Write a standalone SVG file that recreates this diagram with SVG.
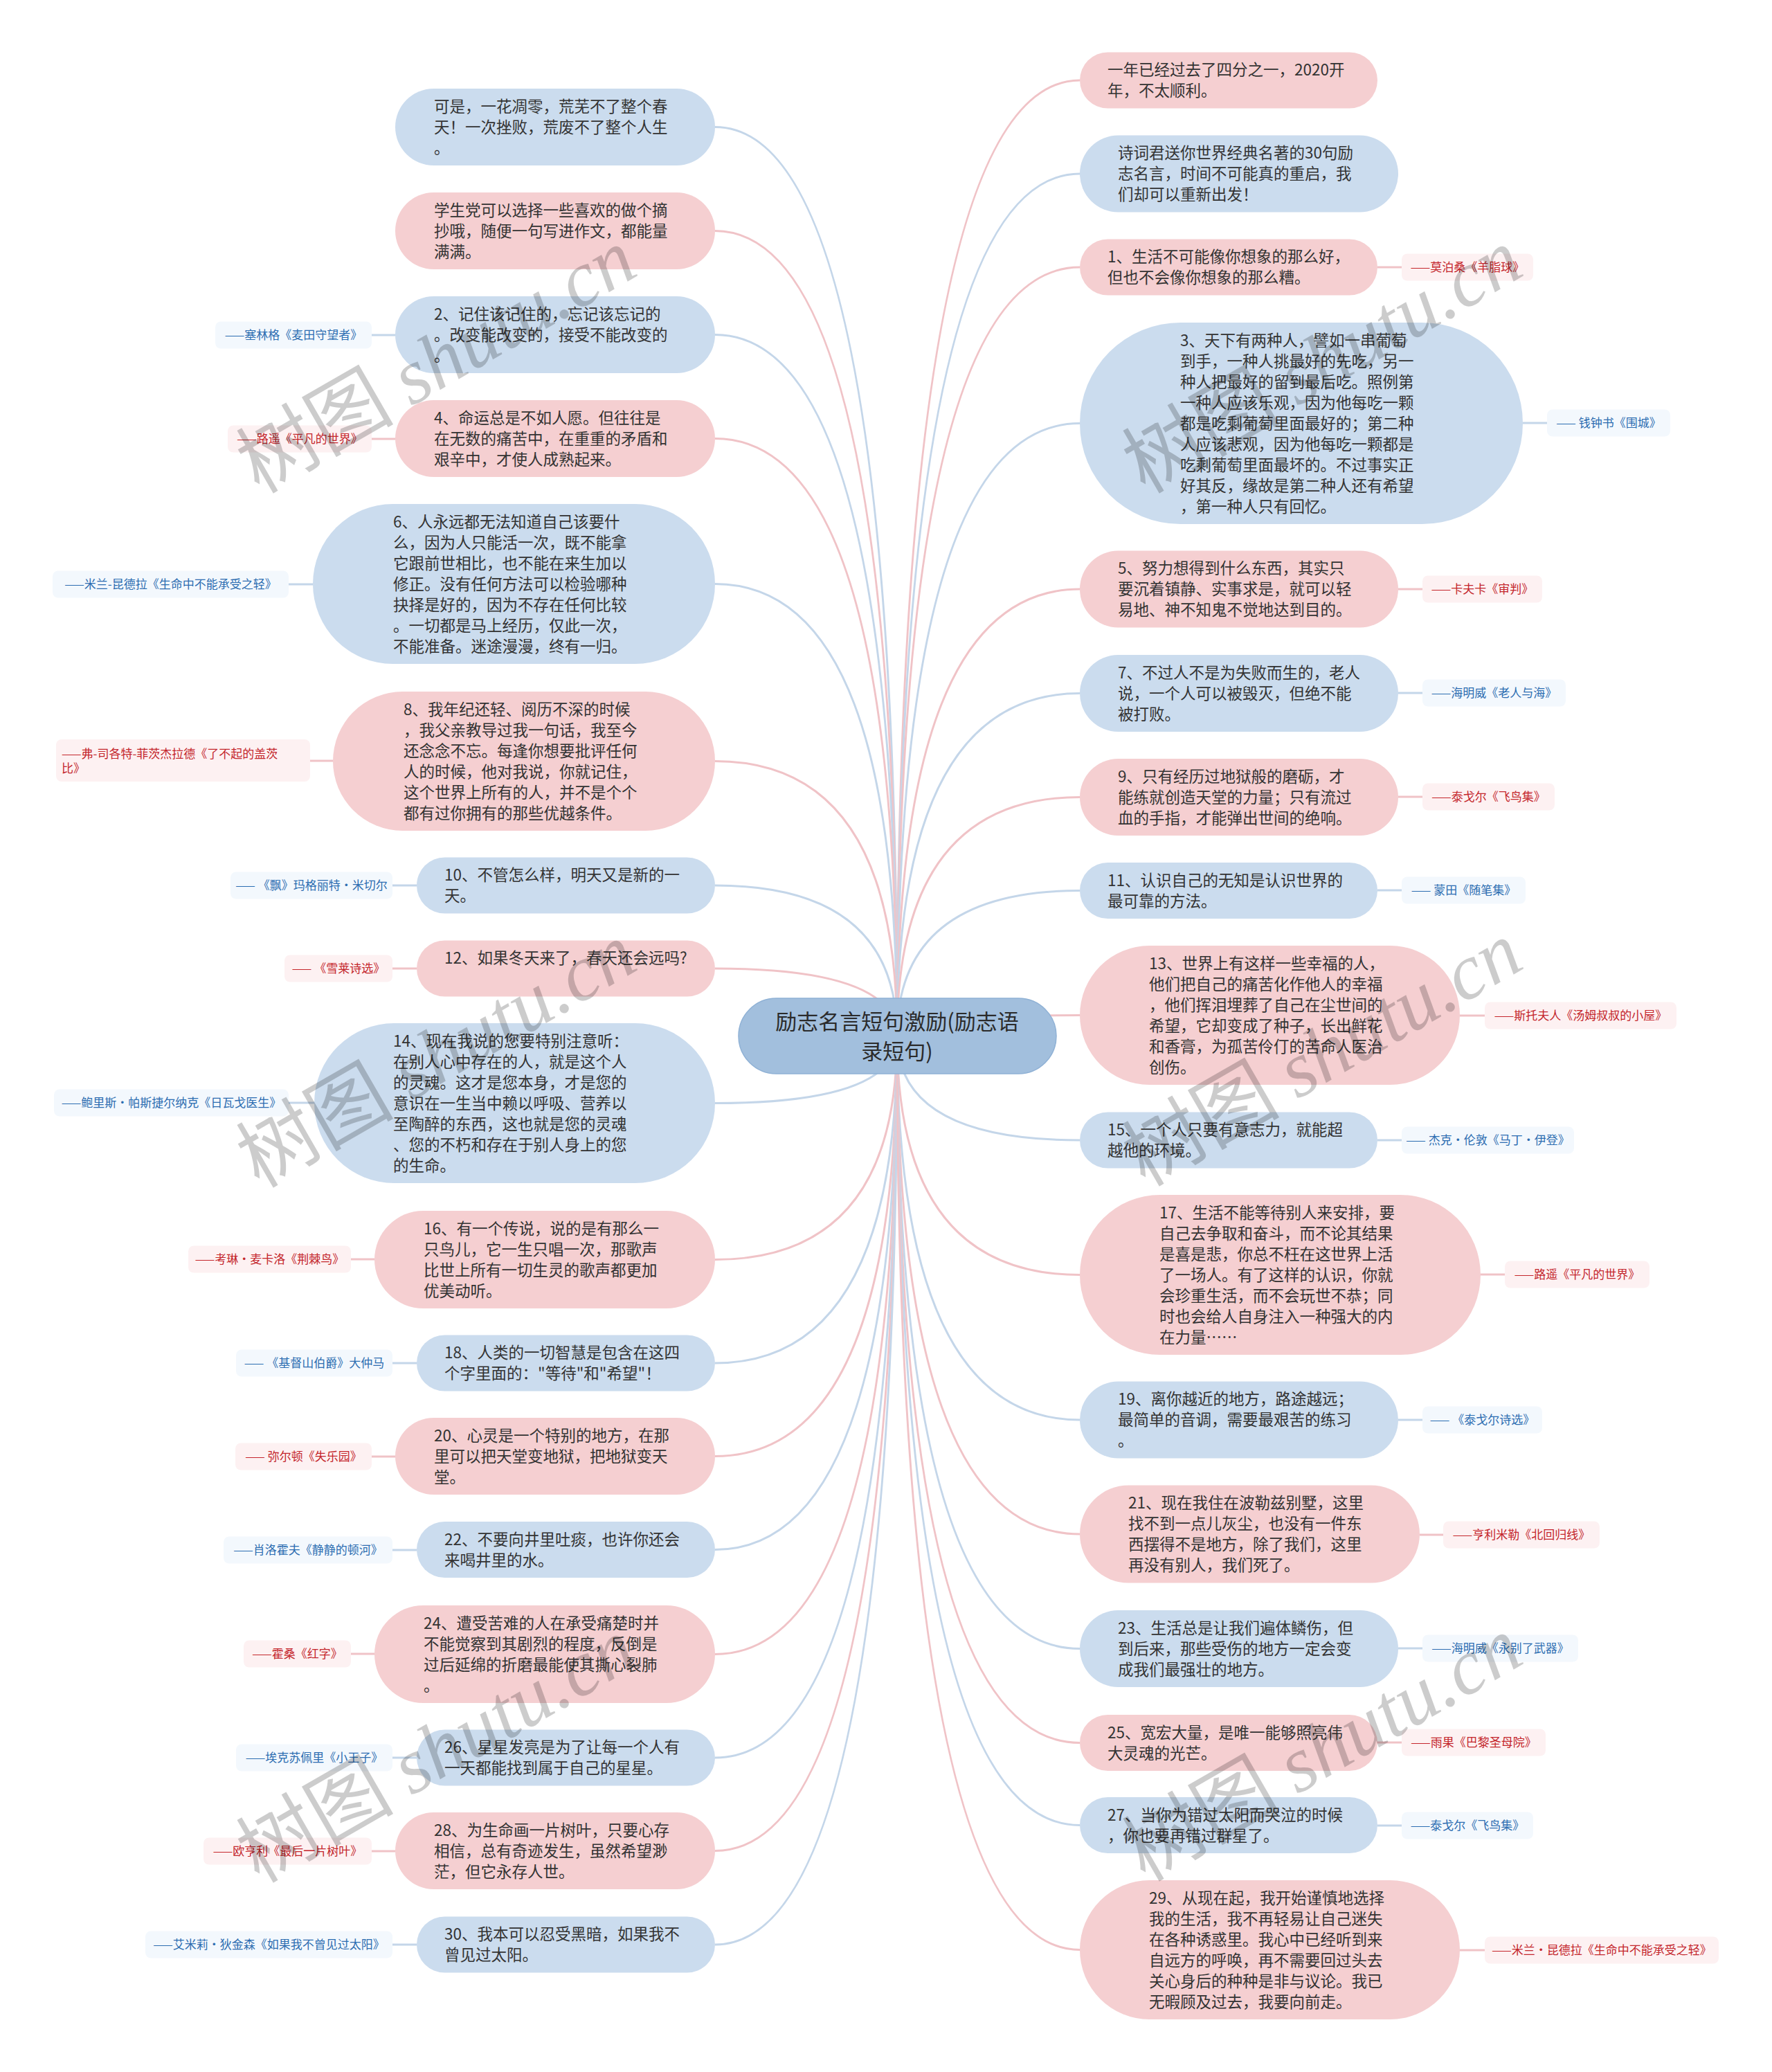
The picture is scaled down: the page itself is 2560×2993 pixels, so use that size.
<svg xmlns="http://www.w3.org/2000/svg" width="2560" height="2993" viewBox="0 0 2560 2993">
<style>
.t{font-family:"Noto Sans CJK SC","Noto Sans",sans-serif;font-size:22.5px;fill:#333333}
.nb{fill:#cbdcee}.np{fill:#f5cfd1}
.cb{fill:none;stroke:#c4d6e9;stroke-width:3}.cp{fill:none;stroke:#f0c3c7;stroke-width:3}
.lb{fill:#f3f8fd}.lp{fill:#fdf1f2}
.l{font-family:"Noto Sans CJK SC","Noto Sans",sans-serif;font-size:17px;text-anchor:middle}
.lt{font-family:"Noto Sans CJK SC","Noto Sans",sans-serif;font-size:17px}
.tb{fill:#2c6db1}.tp{fill:#c4262c}
.wm{font-size:114px;fill:#000000;fill-opacity:0.2}
</style>
<rect width="2560" height="2993" fill="#ffffff"/>
<g id="connectors">
<path class="cb" d="M1296 1497Q1296 183.5 1033 183.5"/>
<path class="cp" d="M1296 1497Q1296 333.5 1033 333.5"/>
<path class="cb" d="M1296 1497Q1296 483.5 1033 483.5"/>
<path class="cp" d="M1296 1497Q1296 633.5 1033 633.5"/>
<path class="cb" d="M1296 1497Q1296 843.5 1033 843.5"/>
<path class="cp" d="M1296 1497Q1296 1099.5 1033 1099.5"/>
<path class="cb" d="M1296 1497Q1296 1279 1033 1279"/>
<path class="cp" d="M1296 1497Q1296 1399 1033 1399"/>
<path class="cb" d="M1296 1497Q1296 1593.5 1033 1593.5"/>
<path class="cp" d="M1296 1497Q1296 1819.5 1033 1819.5"/>
<path class="cb" d="M1296 1497Q1296 1969 1033 1969"/>
<path class="cp" d="M1296 1497Q1296 2103.5 1033 2103.5"/>
<path class="cb" d="M1296 1497Q1296 2238.5 1033 2238.5"/>
<path class="cp" d="M1296 1497Q1296 2389.5 1033 2389.5"/>
<path class="cb" d="M1296 1497Q1296 2539 1033 2539"/>
<path class="cp" d="M1296 1497Q1296 2673.5 1033 2673.5"/>
<path class="cb" d="M1296 1497Q1296 2809 1033 2809"/>
<path class="cp" d="M1296 1497Q1296 116 1560 116"/>
<path class="cb" d="M1296 1497Q1296 251 1560 251"/>
<path class="cp" d="M1296 1497Q1296 386 1560 386"/>
<path class="cb" d="M1296 1497Q1296 611.5 1560 611.5"/>
<path class="cp" d="M1296 1497Q1296 851 1560 851"/>
<path class="cb" d="M1296 1497Q1296 1001.5 1560 1001.5"/>
<path class="cp" d="M1296 1497Q1296 1151.5 1560 1151.5"/>
<path class="cb" d="M1296 1497Q1296 1286.5 1560 1286.5"/>
<path class="cp" d="M1296 1497Q1296 1466.5 1560 1466.5"/>
<path class="cb" d="M1296 1497Q1296 1647 1560 1647"/>
<path class="cp" d="M1296 1497Q1296 1841.5 1560 1841.5"/>
<path class="cb" d="M1296 1497Q1296 2051 1560 2051"/>
<path class="cp" d="M1296 1497Q1296 2216 1560 2216"/>
<path class="cb" d="M1296 1497Q1296 2381.5 1560 2381.5"/>
<path class="cp" d="M1296 1497Q1296 2517.5 1560 2517.5"/>
<path class="cb" d="M1296 1497Q1296 2636.5 1560 2636.5"/>
<path class="cp" d="M1296 1497Q1296 2816.5 1560 2816.5"/>
<path class="cb" d="M537 484H571"/>
<path class="cp" d="M537 634H571"/>
<path class="cb" d="M417 844H452"/>
<path class="cp" d="M448 1099H481"/>
<path class="cb" d="M567 1279H602"/>
<path class="cp" d="M567 1399H602"/>
<path class="cb" d="M417 1593H454"/>
<path class="cp" d="M507 1819H541"/>
<path class="cb" d="M567 1969H602"/>
<path class="cp" d="M537 2104H571"/>
<path class="cb" d="M567 2239H602"/>
<path class="cp" d="M507 2389H541"/>
<path class="cb" d="M567 2539H602"/>
<path class="cp" d="M537 2674H571"/>
<path class="cb" d="M567 2809H602"/>
<path class="cp" d="M1990 386H2025"/>
<path class="cb" d="M2200 611H2235"/>
<path class="cp" d="M2020 851H2055"/>
<path class="cb" d="M2020 1001H2055"/>
<path class="cp" d="M2020 1151H2055"/>
<path class="cb" d="M1990 1286H2025"/>
<path class="cp" d="M2109 1467H2145"/>
<path class="cb" d="M1990 1647H2025"/>
<path class="cp" d="M2139 1841H2174"/>
<path class="cb" d="M2020 2051H2055"/>
<path class="cp" d="M2051 2217H2085"/>
<path class="cb" d="M2020 2381H2055"/>
<path class="cp" d="M1990 2517H2025"/>
<path class="cb" d="M1990 2637H2025"/>
<path class="cp" d="M2109 2817H2145"/>
</g>
<g id="root">
<rect x="1067" y="1442" width="459" height="109" rx="54.5" fill="#a2bfdd" stroke="#8fb1d5" stroke-width="1.5"/>
<text font-family="'Noto Sans CJK SC','Noto Sans',sans-serif" font-size="31" fill="#2b2b2b" text-anchor="middle"><tspan x="1296" y="1487">励志名言短句激励(励志语</tspan><tspan x="1296" y="1530">录短句)</tspan></text>
</g>
<g id="n_a"><rect class="nb" x="571" y="128" width="462" height="111" rx="55.5"/><text class="t"><tspan x="627" y="161.5">可是，一花凋零，荒芜不了整个春</tspan><tspan x="627" y="191.5">天！一次挫败，荒废不了整个人生</tspan><tspan x="627" y="221.5">。</tspan></text></g>
<g id="n_b"><rect class="np" x="571" y="278" width="462" height="111" rx="55.5"/><text class="t"><tspan x="627" y="311.5">学生党可以选择一些喜欢的做个摘</tspan><tspan x="627" y="341.5">抄哦，随便一句写进作文，都能量</tspan><tspan x="627" y="371.5">满满。</tspan></text></g>
<g id="n_2"><rect class="nb" x="571" y="428" width="462" height="111" rx="55.5"/><text class="t"><tspan x="627" y="461.5">2、记住该记住的，忘记该忘记的</tspan><tspan x="627" y="491.5">。改变能改变的，接受不能改变的</tspan><tspan x="627" y="521.5">。</tspan></text>
<rect class="lb" x="311" y="464.5" width="226" height="39" rx="8"/><text class="l tb" x="424" y="490">——塞林格《麦田守望者》</text></g>
<g id="n_4"><rect class="np" x="571" y="578" width="462" height="111" rx="55.5"/><text class="t"><tspan x="627" y="611.5">4、命运总是不如人愿。但往往是</tspan><tspan x="627" y="641.5">在无数的痛苦中，在重重的矛盾和</tspan><tspan x="627" y="671.5">艰辛中，才使人成熟起来。</tspan></text>
<rect class="lp" x="329" y="614.5" width="208" height="39" rx="8"/><text class="l tp" x="433" y="640">——路遥《平凡的世界》</text></g>
<g id="n_6"><rect class="nb" x="452" y="728" width="581" height="231" rx="115.5"/><text class="t"><tspan x="568" y="761.5">6、人永远都无法知道自己该要什</tspan><tspan x="568" y="791.5">么，因为人只能活一次，既不能拿</tspan><tspan x="568" y="821.5">它跟前世相比，也不能在来生加以</tspan><tspan x="568" y="851.5">修正。没有任何方法可以检验哪种</tspan><tspan x="568" y="881.5">抉择是好的，因为不存在任何比较</tspan><tspan x="568" y="911.5">。一切都是马上经历，仅此一次，</tspan><tspan x="568" y="941.5">不能准备。迷途漫漫，终有一归。</tspan></text>
<rect class="lb" x="76" y="824.5" width="341" height="39" rx="8"/><text class="l tb" x="246.5" y="850">——米兰-昆德拉《生命中不能承受之轻》</text></g>
<g id="n_8"><rect class="np" x="481" y="999" width="552" height="201" rx="100.5"/><text class="t"><tspan x="583" y="1032.5">8、我年纪还轻、阅历不深的时候</tspan><tspan x="583" y="1062.5">，我父亲教导过我一句话，我至今</tspan><tspan x="583" y="1092.5">还念念不忘。每逢你想要批评任何</tspan><tspan x="583" y="1122.5">人的时候，他对我说，你就记住，</tspan><tspan x="583" y="1152.5">这个世界上所有的人，并不是个个</tspan><tspan x="583" y="1182.5">都有过你拥有的那些优越条件。</tspan></text>
<rect class="lp" x="81" y="1068" width="367" height="61" rx="8"/><text class="lt tp"><tspan x="89" y="1095">——弗-司各特-菲茨杰拉德《了不起的盖茨</tspan><tspan x="89" y="1116">比》</tspan></text></g>
<g id="n_10"><rect class="nb" x="602" y="1238.5" width="431" height="81" rx="40.5"/><text class="t"><tspan x="642" y="1272">10、不管怎么样，明天又是新的一</tspan><tspan x="642" y="1302">天。</tspan></text>
<rect class="lb" x="333" y="1259.5" width="234" height="39" rx="8"/><text class="l tb" x="450" y="1285">—— 《飘》玛格丽特·米切尔</text></g>
<g id="n_12"><rect class="np" x="602" y="1358.5" width="431" height="81" rx="40.5"/><text class="t"><tspan x="642" y="1392">12、如果冬天来了，春天还会远吗?</tspan></text>
<rect class="lp" x="411" y="1379.5" width="156" height="39" rx="8"/><text class="l tp" x="489" y="1405">—— 《雪莱诗选》</text></g>
<g id="n_14"><rect class="nb" x="454" y="1478" width="579" height="231" rx="115.5"/><text class="t"><tspan x="568" y="1511.5">14、现在我说的您要特别注意听：</tspan><tspan x="568" y="1541.5">在别人心中存在的人，就是这个人</tspan><tspan x="568" y="1571.5">的灵魂。这才是您本身，才是您的</tspan><tspan x="568" y="1601.5">意识在一生当中赖以呼吸、营养以</tspan><tspan x="568" y="1631.5">至陶醉的东西，这也就是您的灵魂</tspan><tspan x="568" y="1661.5">、您的不朽和存在于别人身上的您</tspan><tspan x="568" y="1691.5">的生命。</tspan></text>
<rect class="lb" x="78" y="1573.5" width="339" height="39" rx="8"/><text class="l tb" x="247.5" y="1599">——鲍里斯·帕斯捷尔纳克《日瓦戈医生》</text></g>
<g id="n_16"><rect class="np" x="541" y="1749" width="492" height="141" rx="70.5"/><text class="t"><tspan x="612" y="1782.5">16、有一个传说，说的是有那么一</tspan><tspan x="612" y="1812.5">只鸟儿，它一生只唱一次，那歌声</tspan><tspan x="612" y="1842.5">比世上所有一切生灵的歌声都更加</tspan><tspan x="612" y="1872.5">优美动听。</tspan></text>
<rect class="lp" x="272" y="1799.5" width="235" height="39" rx="8"/><text class="l tp" x="389.5" y="1825">——考琳·麦卡洛《荆棘鸟》</text></g>
<g id="n_18"><rect class="nb" x="602" y="1928.5" width="431" height="81" rx="40.5"/><text class="t"><tspan x="642" y="1962">18、人类的一切智慧是包含在这四</tspan><tspan x="642" y="1992">个字里面的："等待"和"希望"！</tspan></text>
<rect class="lb" x="341" y="1949.5" width="226" height="39" rx="8"/><text class="l tb" x="454" y="1975">—— 《基督山伯爵》大仲马</text></g>
<g id="n_20"><rect class="np" x="571" y="2048" width="462" height="111" rx="55.5"/><text class="t"><tspan x="627" y="2081.5">20、心灵是一个特别的地方，在那</tspan><tspan x="627" y="2111.5">里可以把天堂变地狱，把地狱变天</tspan><tspan x="627" y="2141.5">堂。</tspan></text>
<rect class="lp" x="340" y="2084.5" width="197" height="39" rx="8"/><text class="l tp" x="438.5" y="2110">—— 弥尔顿《失乐园》</text></g>
<g id="n_22"><rect class="nb" x="602" y="2198" width="431" height="81" rx="40.5"/><text class="t"><tspan x="642" y="2231.5">22、不要向井里吐痰，也许你还会</tspan><tspan x="642" y="2261.5">来喝井里的水。</tspan></text>
<rect class="lb" x="323" y="2219.5" width="244" height="39" rx="8"/><text class="l tb" x="445" y="2245">——肖洛霍夫《静静的顿河》</text></g>
<g id="n_24"><rect class="np" x="541" y="2319" width="492" height="141" rx="70.5"/><text class="t"><tspan x="612" y="2352.5">24、遭受苦难的人在承受痛楚时并</tspan><tspan x="612" y="2382.5">不能觉察到其剧烈的程度，反倒是</tspan><tspan x="612" y="2412.5">过后延绵的折磨最能使其撕心裂肺</tspan><tspan x="612" y="2442.5">。</tspan></text>
<rect class="lp" x="352" y="2369.5" width="155" height="39" rx="8"/><text class="l tp" x="429.5" y="2395">——霍桑《红字》</text></g>
<g id="n_26"><rect class="nb" x="602" y="2498.5" width="431" height="81" rx="40.5"/><text class="t"><tspan x="642" y="2532">26、星星发亮是为了让每一个人有</tspan><tspan x="642" y="2562">一天都能找到属于自己的星星。</tspan></text>
<rect class="lb" x="341" y="2519.5" width="226" height="39" rx="8"/><text class="l tb" x="454" y="2545">——埃克苏佩里《小王子》</text></g>
<g id="n_28"><rect class="np" x="571" y="2618" width="462" height="111" rx="55.5"/><text class="t"><tspan x="627" y="2651.5">28、为生命画一片树叶，只要心存</tspan><tspan x="627" y="2681.5">相信，总有奇迹发生，虽然希望渺</tspan><tspan x="627" y="2711.5">茫，但它永存人世。</tspan></text>
<rect class="lp" x="294" y="2654.5" width="243" height="39" rx="8"/><text class="l tp" x="415.5" y="2680">——欧亨利《最后一片树叶》</text></g>
<g id="n_30"><rect class="nb" x="602" y="2768.5" width="431" height="81" rx="40.5"/><text class="t"><tspan x="642" y="2802">30、我本可以忍受黑暗，如果我不</tspan><tspan x="642" y="2832">曾见过太阳。</tspan></text>
<rect class="lb" x="210" y="2789.5" width="357" height="39" rx="8"/><text class="l tb" x="388.5" y="2815">——艾米莉·狄金森《如果我不曾见过太阳》</text></g>
<g id="r_a"><rect class="np" x="1560" y="75.5" width="430" height="81" rx="40.5"/><text class="t"><tspan x="1600" y="109">一年已经过去了四分之一，2020开</tspan><tspan x="1600" y="139">年，不太顺利。</tspan></text></g>
<g id="r_b"><rect class="nb" x="1560" y="195.5" width="460" height="111" rx="55.5"/><text class="t"><tspan x="1615" y="229">诗词君送你世界经典名著的30句励</tspan><tspan x="1615" y="259">志名言，时间不可能真的重启，我</tspan><tspan x="1615" y="289">们却可以重新出发！</tspan></text></g>
<g id="r_1"><rect class="np" x="1560" y="345.5" width="430" height="81" rx="40.5"/><text class="t"><tspan x="1600" y="379">1、生活不可能像你想象的那么好，</tspan><tspan x="1600" y="409">但也不会像你想象的那么糟。</tspan></text>
<rect class="lp" x="2025" y="366.5" width="190" height="39" rx="8"/><text class="l tp" x="2120" y="392">——莫泊桑《羊脂球》</text></g>
<g id="r_3"><rect class="nb" x="1560" y="466" width="640" height="291" rx="145.5"/><text class="t"><tspan x="1705" y="499.5">3、天下有两种人，譬如一串葡萄</tspan><tspan x="1705" y="529.5">到手，一种人挑最好的先吃，另一</tspan><tspan x="1705" y="559.5">种人把最好的留到最后吃。照例第</tspan><tspan x="1705" y="589.5">一种人应该乐观，因为他每吃一颗</tspan><tspan x="1705" y="619.5">都是吃剩葡萄里面最好的；第二种</tspan><tspan x="1705" y="649.5">人应该悲观，因为他每吃一颗都是</tspan><tspan x="1705" y="679.5">吃剩葡萄里面最坏的。不过事实正</tspan><tspan x="1705" y="709.5">好其反，缘故是第二种人还有希望</tspan><tspan x="1705" y="739.5">，第一种人只有回忆。</tspan></text>
<rect class="lb" x="2235" y="591.5" width="178" height="39" rx="8"/><text class="l tb" x="2324" y="617">—— 钱钟书《围城》</text></g>
<g id="r_5"><rect class="np" x="1560" y="795.5" width="460" height="111" rx="55.5"/><text class="t"><tspan x="1615" y="829">5、努力想得到什么东西，其实只</tspan><tspan x="1615" y="859">要沉着镇静、实事求是，就可以轻</tspan><tspan x="1615" y="889">易地、神不知鬼不觉地达到目的。</tspan></text>
<rect class="lp" x="2055" y="831.5" width="173" height="39" rx="8"/><text class="l tp" x="2141.5" y="857">——卡夫卡《审判》</text></g>
<g id="r_7"><rect class="nb" x="1560" y="946" width="460" height="111" rx="55.5"/><text class="t"><tspan x="1615" y="979.5">7、不过人不是为失败而生的，老人</tspan><tspan x="1615" y="1009.5">说，一个人可以被毁灭，但绝不能</tspan><tspan x="1615" y="1039.5">被打败。</tspan></text>
<rect class="lb" x="2055" y="981.5" width="207" height="39" rx="8"/><text class="l tb" x="2158.5" y="1007">——海明威《老人与海》</text></g>
<g id="r_9"><rect class="np" x="1560" y="1096" width="460" height="111" rx="55.5"/><text class="t"><tspan x="1615" y="1129.5">9、只有经历过地狱般的磨砺，才</tspan><tspan x="1615" y="1159.5">能练就创造天堂的力量；只有流过</tspan><tspan x="1615" y="1189.5">血的手指，才能弹出世间的绝响。</tspan></text>
<rect class="lp" x="2055" y="1131.5" width="191" height="39" rx="8"/><text class="l tp" x="2150.5" y="1157">——泰戈尔《飞鸟集》</text></g>
<g id="r_11"><rect class="nb" x="1560" y="1246" width="430" height="81" rx="40.5"/><text class="t"><tspan x="1600" y="1279.5">11、认识自己的无知是认识世界的</tspan><tspan x="1600" y="1309.5">最可靠的方法。</tspan></text>
<rect class="lb" x="2025" y="1266.5" width="179" height="39" rx="8"/><text class="l tb" x="2114.5" y="1292">—— 蒙田《随笔集》</text></g>
<g id="r_13"><rect class="np" x="1560" y="1366" width="549" height="201" rx="100.5"/><text class="t"><tspan x="1660" y="1399.5">13、世界上有这样一些幸福的人，</tspan><tspan x="1660" y="1429.5">他们把自己的痛苦化作他人的幸福</tspan><tspan x="1660" y="1459.5">，他们挥泪埋葬了自己在尘世间的</tspan><tspan x="1660" y="1489.5">希望，它却变成了种子，长出鲜花</tspan><tspan x="1660" y="1519.5">和香膏，为孤苦伶仃的苦命人医治</tspan><tspan x="1660" y="1549.5">创伤。</tspan></text>
<rect class="lp" x="2145" y="1447.5" width="277" height="39" rx="8"/><text class="l tp" x="2283.5" y="1473">——斯托夫人《汤姆叔叔的小屋》</text></g>
<g id="r_15"><rect class="nb" x="1560" y="1606.5" width="430" height="81" rx="40.5"/><text class="t"><tspan x="1600" y="1640">15、一个人只要有意志力，就能超</tspan><tspan x="1600" y="1670">越他的环境。</tspan></text>
<rect class="lb" x="2025" y="1627.5" width="249" height="39" rx="8"/><text class="l tb" x="2149.5" y="1653">—— 杰克·伦敦《马丁·伊登》</text></g>
<g id="r_17"><rect class="np" x="1560" y="1726" width="579" height="231" rx="115.5"/><text class="t"><tspan x="1675" y="1759.5">17、生活不能等待别人来安排，要</tspan><tspan x="1675" y="1789.5">自己去争取和奋斗，而不论其结果</tspan><tspan x="1675" y="1819.5">是喜是悲，你总不枉在这世界上活</tspan><tspan x="1675" y="1849.5">了一场人。有了这样的认识，你就</tspan><tspan x="1675" y="1879.5">会珍重生活，而不会玩世不恭；同</tspan><tspan x="1675" y="1909.5">时也会给人自身注入一种强大的内</tspan><tspan x="1675" y="1939.5">在力量……</tspan></text>
<rect class="lp" x="2174" y="1821.5" width="209" height="39" rx="8"/><text class="l tp" x="2278.5" y="1847">——路遥《平凡的世界》</text></g>
<g id="r_19"><rect class="nb" x="1560" y="1995.5" width="460" height="111" rx="55.5"/><text class="t"><tspan x="1615" y="2029">19、离你越近的地方，路途越远；</tspan><tspan x="1615" y="2059">最简单的音调，需要最艰苦的练习</tspan><tspan x="1615" y="2089">。</tspan></text>
<rect class="lb" x="2055" y="2031.5" width="173" height="39" rx="8"/><text class="l tb" x="2141.5" y="2057">—— 《泰戈尔诗选》</text></g>
<g id="r_21"><rect class="np" x="1560" y="2145.5" width="491" height="141" rx="70.5"/><text class="t"><tspan x="1630" y="2179">21、现在我住在波勒兹别墅，这里</tspan><tspan x="1630" y="2209">找不到一点儿灰尘，也没有一件东</tspan><tspan x="1630" y="2239">西摆得不是地方，除了我们，这里</tspan><tspan x="1630" y="2269">再没有别人，我们死了。</tspan></text>
<rect class="lp" x="2085" y="2197.5" width="226" height="39" rx="8"/><text class="l tp" x="2198" y="2223">——亨利米勒《北回归线》</text></g>
<g id="r_23"><rect class="nb" x="1560" y="2326" width="460" height="111" rx="55.5"/><text class="t"><tspan x="1615" y="2359.5">23、生活总是让我们遍体鳞伤，但</tspan><tspan x="1615" y="2389.5">到后来，那些受伤的地方一定会变</tspan><tspan x="1615" y="2419.5">成我们最强壮的地方。</tspan></text>
<rect class="lb" x="2055" y="2361.5" width="225" height="39" rx="8"/><text class="l tb" x="2167.5" y="2387">——海明威《永别了武器》</text></g>
<g id="r_25"><rect class="np" x="1560" y="2477" width="430" height="81" rx="40.5"/><text class="t"><tspan x="1600" y="2510.5">25、宽宏大量，是唯一能够照亮伟</tspan><tspan x="1600" y="2540.5">大灵魂的光芒。</tspan></text>
<rect class="lp" x="2025" y="2497.5" width="208" height="39" rx="8"/><text class="l tp" x="2129" y="2523">——雨果《巴黎圣母院》</text></g>
<g id="r_27"><rect class="nb" x="1560" y="2596" width="430" height="81" rx="40.5"/><text class="t"><tspan x="1600" y="2629.5">27、当你为错过太阳而哭泣的时候</tspan><tspan x="1600" y="2659.5">，你也要再错过群星了。</tspan></text>
<rect class="lb" x="2025" y="2617.5" width="190" height="39" rx="8"/><text class="l tb" x="2120" y="2643">——泰戈尔《飞鸟集》</text></g>
<g id="r_29"><rect class="np" x="1560" y="2716" width="549" height="201" rx="100.5"/><text class="t"><tspan x="1660" y="2749.5">29、从现在起，我开始谨慎地选择</tspan><tspan x="1660" y="2779.5">我的生活，我不再轻易让自己迷失</tspan><tspan x="1660" y="2809.5">在各种诱惑里。我心中已经听到来</tspan><tspan x="1660" y="2839.5">自远方的呼唤，再不需要回过头去</tspan><tspan x="1660" y="2869.5">关心身后的种种是非与议论。我已</tspan><tspan x="1660" y="2899.5">无暇顾及过去，我要向前走。</tspan></text>
<rect class="lp" x="2145" y="2797.5" width="338" height="39" rx="8"/><text class="l tp" x="2314" y="2823">——米兰·昆德拉《生命中不能承受之轻》</text></g>
<g id="watermarks" class="wm" text-anchor="middle">
<text transform="translate(650 555) rotate(-30)"><tspan font-family="'Noto Sans CJK SC',sans-serif">树图 </tspan><tspan font-family="'Liberation Serif',serif" font-style="italic">shutu.cn</tspan></text>
<text transform="translate(1930 555) rotate(-30)"><tspan font-family="'Noto Sans CJK SC',sans-serif">树图 </tspan><tspan font-family="'Liberation Serif',serif" font-style="italic">shutu.cn</tspan></text>
<text transform="translate(650 1558) rotate(-30)"><tspan font-family="'Noto Sans CJK SC',sans-serif">树图 </tspan><tspan font-family="'Liberation Serif',serif" font-style="italic">shutu.cn</tspan></text>
<text transform="translate(1930 1556) rotate(-30)"><tspan font-family="'Noto Sans CJK SC',sans-serif">树图 </tspan><tspan font-family="'Liberation Serif',serif" font-style="italic">shutu.cn</tspan></text>
<text transform="translate(650 2562) rotate(-30)"><tspan font-family="'Noto Sans CJK SC',sans-serif">树图 </tspan><tspan font-family="'Liberation Serif',serif" font-style="italic">shutu.cn</tspan></text>
<text transform="translate(1930 2560) rotate(-30)"><tspan font-family="'Noto Sans CJK SC',sans-serif">树图 </tspan><tspan font-family="'Liberation Serif',serif" font-style="italic">shutu.cn</tspan></text>
</g>
</svg>
